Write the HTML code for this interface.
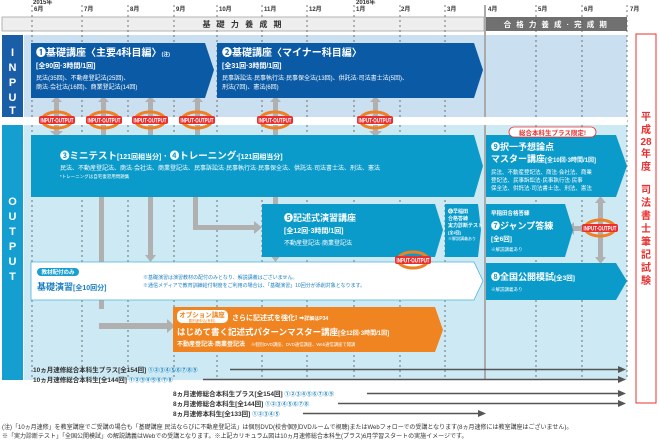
<!DOCTYPE html>
<html><head><meta charset="utf-8"><style>
body{margin:0;background:#fff}
svg{display:block;font-family:"Liberation Sans","Noto Sans CJK JP",sans-serif}
.w{fill:#fff;font-weight:bold}
</style></head><body>
<svg width="660" height="440" viewBox="0 0 660 440" xmlns="http://www.w3.org/2000/svg">
<defs>
<g id="io">
<ellipse cx="0" cy="0" rx="15" ry="8" fill="none" stroke="#f08020" stroke-width="3"/>
<rect x="-18" y="-4" width="36" height="8" rx="2" fill="#e83030"/>
<text x="-16.5" y="2.3" font-size="6" fill="#fff" font-weight="bold" textLength="33" lengthAdjust="spacingAndGlyphs">INPUT·OUTPUT</text>
</g>
</defs>
<g font-size="6" fill="#333" font-weight="bold">
<text x="33" y="4">2015年</text>
<text x="34" y="11">6月</text><text x="84" y="11">7月</text><text x="130" y="11">8月</text><text x="176" y="11">9月</text>
<text x="219" y="11">10月</text><text x="264" y="11">11月</text><text x="309" y="11">12月</text>
<text x="356" y="4">2016年</text><text x="356" y="11">1月</text><text x="401" y="11">2月</text><text x="447" y="11">3月</text>
<text x="488" y="11">4月</text><text x="538" y="11">5月</text><text x="584" y="11">6月</text><text x="630" y="11">7月</text>
</g>
<rect x="2" y="17" width="482" height="14" fill="#eeeeee" stroke="#999" stroke-width="0.7"/>
<text x="243" y="27" font-size="8" font-weight="bold" fill="#333" text-anchor="middle" letter-spacing="2">基 礎 力 養 成 期</text>
<rect x="486" y="17" width="141" height="14" fill="#707070"/>
<text x="556" y="27" font-size="7.5" font-weight="bold" fill="#fff" text-anchor="middle" letter-spacing="1.5">合 格 力 養 成 · 完 成 期</text>
<rect x="24" y="35" width="603" height="82" fill="#cadff0"/>
<rect x="24" y="125" width="603" height="255" fill="#cdeaf4"/>
<rect x="2" y="35" width="21" height="82" fill="#1a5ea8"/>
<rect x="2" y="125" width="21" height="255" fill="#159fd0"/>
<g class="w" font-size="11" text-anchor="middle">
<text x="12.5" y="56">I</text><text x="12.5" y="71">N</text><text x="12.5" y="86">P</text><text x="12.5" y="101">U</text><text x="12.5" y="114">T</text>
<text x="12.5" y="205">O</text><text x="12.5" y="220">U</text><text x="12.5" y="235">T</text><text x="12.5" y="250">P</text><text x="12.5" y="265">U</text><text x="12.5" y="280">T</text>
</g>
<g stroke="#555" stroke-width="0.8" stroke-dasharray="2,3">
<line x1="32" y1="5" x2="32" y2="380"/><line x1="82" y1="5" x2="82" y2="380"/><line x1="128" y1="5" x2="128" y2="380"/>
<line x1="174" y1="5" x2="174" y2="380"/><line x1="217" y1="5" x2="217" y2="380"/><line x1="262" y1="5" x2="262" y2="380"/>
<line x1="307" y1="5" x2="307" y2="380"/><line x1="354" y1="5" x2="354" y2="380"/><line x1="400" y1="5" x2="400" y2="380"/>
<line x1="445" y1="5" x2="445" y2="380"/><line x1="536" y1="5" x2="536" y2="380"/><line x1="582" y1="5" x2="582" y2="380"/>
<line x1="627" y1="5" x2="627" y2="380"/>
</g>
<line x1="485" y1="5" x2="485" y2="380" stroke="#aaa" stroke-width="2"/>
<g fill="#b0b0b0">
<rect x="99" y="197" width="5" height="112"/><rect x="99" y="323" width="70" height="6"/><polygon points="167,319 175,326 167,333"/>
<rect x="148" y="197" width="5" height="60"/><polygon points="145,255 150.5,262 156,255"/>
<rect x="193" y="197" width="5" height="33"/><rect x="193" y="225" width="63" height="5"/><polygon points="254,221 262,227.5 254,234"/>
<rect x="273" y="197" width="5" height="60"/><polygon points="270,255 275.5,262 281,255"/>
<rect x="54" y="100" width="5" height="33"/><polygon points="51,102 56.5,96 62,102"/><polygon points="50,131 56.5,137 63,131"/>
<rect x="101" y="100" width="5" height="35"/><polygon points="98,102 103.5,96 109,102"/>
<rect x="148" y="100" width="5" height="35"/><polygon points="145,102 150.5,96 156,102"/>
<rect x="195" y="100" width="5" height="35"/><polygon points="192,102 197.5,96 203,102"/>
<rect x="273" y="100" width="5" height="35"/><polygon points="270,102 275.5,96 281,102"/>
<rect x="373" y="100" width="5" height="35"/><polygon points="370,102 375.5,96 381,102"/><polygon points="369,131 375.5,137 382,131"/>
<rect x="411" y="240" width="5" height="40"/><polygon points="408,242 413.5,235 419,242"/><polygon points="408,278 413.5,285 419,278"/>
<rect x="598" y="200" width="5" height="60"/><polygon points="595,203 600.5,196 606,203"/><polygon points="595,257 600.5,264 606,257"/>
<rect x="572" y="226" width="15" height="5"/><polygon points="574,222 567,228.5 574,235"/>
</g>
<rect x="24" y="117" width="603" height="8" fill="#fff"/>
<polygon points="31,43 205,43 214,70 205,98 31,98" fill="#0a5aa6"/>
<polygon points="217,43 474,43 483,70 474,98 217,98" fill="#0a5aa6"/>
<g class="w">
<text x="36" y="56" font-size="10">❶基礎講座〈主要4科目編〉<tspan font-size="5">(注)</tspan></text>
<text x="36" y="68" font-size="7">[全90回·3時間/1回]</text>
<text x="36" y="80" font-size="6" font-weight="normal">民法(35回)、不動産登記法(25回)、</text>
<text x="36" y="89" font-size="6" font-weight="normal">商法·会社法(16回)、商業登記法(14回)</text>
<text x="222" y="56" font-size="10">❷基礎講座〈マイナー科目編〉</text>
<text x="222" y="68" font-size="7">[全31回·3時間/1回]</text>
<text x="222" y="80" font-size="6" font-weight="normal">民事訴訟法·民事執行法·民事保全法(13回)、供託法·司法書士法(5回)、</text>
<text x="222" y="89" font-size="6" font-weight="normal">刑法(7回)、憲法(6回)</text>
</g>
<polygon points="31,135 474,135 483,166 474,197 31,197" fill="#0b9bcb"/>
<g class="w">
<text x="60" y="159" font-size="9.5">❸ミニテスト<tspan font-size="7">[121回相当分]</tspan> · ❹トレーニング<tspan font-size="5">*</tspan><tspan font-size="7">[121回相当分]</tspan></text>
<text x="60" y="170" font-size="6" font-weight="normal">民法、不動産登記法、商法·会社法、商業登記法、民事訴訟法·民事執行法·民事保全法、供託法·司法書士法、刑法、憲法</text>
<text x="60" y="178" font-size="4.5" font-weight="normal">*トレーニングは自宅復習用問題集</text>
</g>
<polygon points="486,135 616,135 627,166 616,197 486,197" fill="#0b9bcb"/>
<rect x="509" y="127" width="87" height="10" rx="5" fill="#fff" stroke="#e83030" stroke-width="0.8"/>
<text x="552.5" y="135" font-size="6.5" font-weight="bold" fill="#e83030" text-anchor="middle">総合本科生プラス限定!</text>
<g class="w">
<text x="491" y="150" font-size="9">❾択一予想論点</text>
<text x="491" y="162" font-size="9">マスター講座<tspan font-size="6">[全10回·3時間/1回]</tspan></text>
<text x="491" y="174" font-size="5.5" font-weight="normal">民法、不動産登記法、商法·会社法、商業</text>
<text x="491" y="182" font-size="5.5" font-weight="normal">登記法、民事訴訟法·民事執行法·民事</text>
<text x="491" y="190" font-size="5.5" font-weight="normal">保全法、供託法·司法書士法、刑法、憲法</text>
</g>
<polygon points="262,204 435,204 443,230 435,257 262,257" fill="#0b9bcb"/>
<g class="w">
<text x="284" y="221" font-size="9">❺記述式演習講座</text>
<text x="284" y="233" font-size="7">[全12回·3時間/1回]</text>
<text x="284" y="245" font-size="6" font-weight="normal">不動産登記法·商業登記法</text>
</g>
<polygon points="445,204 478,204 481,230 478,257 445,257" fill="#0b9bcb"/>
<g class="w" font-size="5">
<text x="448" y="213">❻早稲田</text><text x="448" y="220">合格答練</text><text x="448" y="227">実力診断テスト</text>
<text x="448" y="234" font-size="4">[全2回]</text><text x="448" y="240" font-size="4" font-weight="normal">※解説講義あり</text>
</g>
<polygon points="486,204 565,204 573,230 565,257 486,257" fill="#0b9bcb"/>
<g class="w">
<text x="491" y="215" font-size="5.5">早稲田合格答練</text>
<text x="491" y="229" font-size="9">❼ジャンプ答練</text>
<text x="491" y="241" font-size="6.5">[全6回]</text>
<text x="491" y="251" font-size="4.5" font-weight="normal">※解説講義あり</text>
</g>
<polygon points="486,263 616,263 627,281 616,300 486,300" fill="#0b9bcb"/>
<g class="w">
<text x="491" y="280" font-size="9">❽全国公開模試<tspan font-size="6.5">[全3回]</tspan></text>
<text x="491" y="291" font-size="4.5" font-weight="normal">※解説講義あり</text>
</g>
<polygon points="31,262 474,262 483,281 474,300 31,300" fill="#fff" stroke="#4ab5dc" stroke-width="0.8"/>
<rect x="37" y="268" width="42" height="8" rx="4" fill="#1a9fd0"/>
<text x="58" y="274" font-size="5.5" class="w" text-anchor="middle">教材配付のみ</text>
<text x="37" y="290" font-size="9" font-weight="bold" fill="#1a7fc0">基礎演習<tspan font-size="7">[全10回分]</tspan></text>
<text x="143" y="279" font-size="5" fill="#1a7fc0">※基礎演習は演習教材の配付のみとなり、解説講義はございません。</text>
<text x="143" y="287" font-size="5" fill="#1a7fc0">※通信メディアで教育訓練給付制度をご利用の場合は、「基礎演習」10回分が添削対象となります。</text>
<polygon points="173,307 435,307 443,330 435,352 173,352" fill="#ef8420"/>
<rect x="177" y="310" width="51" height="13" rx="5" fill="#fff"/>
<text x="202" y="317" font-size="6.5" font-weight="bold" fill="#ef8420" text-anchor="middle">オプション講座</text>
<text x="202" y="322" font-size="3.5" fill="#ef8420" text-anchor="middle">要別途申込(有料)</text>
<g class="w">
<text x="232" y="320" font-size="7">さらに記述式を強化! <tspan font-size="5">➡詳細はP34</tspan></text>
<text x="177" y="335" font-size="8.5">はじめて書く記述式パターンマスター講座<tspan font-size="6">[全12回·3時間/1回]</tspan></text>
<text x="177" y="346" font-size="6">不動産登記法·商業登記法 <tspan font-size="4.3" font-weight="normal">　※個別DVD講座、DVD通信講座、Web通信講座で開講</tspan></text>
</g>
<use href="#io" x="57" y="120"/><use href="#io" x="104" y="120"/><use href="#io" x="150" y="120"/><use href="#io" x="197" y="120"/>
<use href="#io" x="275" y="120"/><use href="#io" x="375" y="120"/><use href="#io" x="413" y="260"/><use href="#io" x="600" y="228"/>
<rect x="636" y="34" width="20" height="369" fill="#fff" stroke="#e83030" stroke-width="1"/>
<g font-size="10" font-weight="bold" fill="#e83030" text-anchor="middle">
<text x="646" y="120">平</text><text x="646" y="133">成</text><text x="646" y="145">28</text><text x="646" y="157">年</text><text x="646" y="170">度</text>
<text x="646" y="193">司</text><text x="646" y="206">法</text><text x="646" y="219">書</text><text x="646" y="232">士</text><text x="646" y="245">筆</text><text x="646" y="258">記</text><text x="646" y="271">試</text><text x="646" y="284">験</text>
</g>
<g font-size="6.5" font-weight="bold" fill="#333">
<text x="33" y="372">10ヵ月速修総合本科生プラス[全154回] <tspan fill="#1a7fc0" font-size="5.5">①②③④⑤⑥⑦⑧⑨</tspan></text>
<text x="33" y="382">10ヵ月速修総合本科生[全144回] <tspan fill="#1a7fc0" font-size="5.5">①②③④⑤⑥⑦⑧</tspan></text>
<text x="173" y="396">8ヵ月速修総合本科生プラス[全154回] <tspan fill="#1a7fc0" font-size="5.5">①②③④⑤⑥⑦⑧⑨</tspan></text>
<text x="173" y="406">8ヵ月速修総合本科生[全144回] <tspan fill="#1a7fc0" font-size="5.5">①②③④⑤⑥⑦⑧</tspan></text>
<text x="173" y="416">8ヵ月速修本科生[全133回] <tspan fill="#1a7fc0" font-size="5.5">①②③④⑤</tspan></text>
</g>
<g stroke="#555" stroke-width="1.5">
<line x1="230" y1="369.5" x2="620" y2="369.5"/><line x1="203" y1="379.5" x2="620" y2="379.5"/>
<line x1="367" y1="393.5" x2="620" y2="393.5"/><line x1="338" y1="403.5" x2="620" y2="403.5"/>
<line x1="303" y1="413.5" x2="480" y2="413.5"/>
</g>
<g fill="#555">
<polygon points="618,366 626,369.5 618,373"/><polygon points="618,376 626,379.5 618,383"/>
<polygon points="618,390 626,393.5 618,397"/><polygon points="618,400 626,403.5 618,407"/>
<polygon points="478,410 486,413.5 478,417"/>
</g>
<g font-size="6" fill="#333">
<text x="2" y="429">(注)「10ヵ月速修」を教室講座でご受講の場合も「基礎講座 民法ならびに不動産登記法」は個別DVD(校舎個別DVDルームで視聴)またはWebフォローでの受講となります(8ヵ月速修には教室講座はございません)。</text>
<text x="2" y="438">※「実力診断テスト」「全国公開模試」の解説講義はWebでの受講となります。※上記カリキュラム図は10ヵ月速修総合本科生(プラス)6月学習スタートの実施イメージです。</text>
</g>
</svg>
</body></html>
